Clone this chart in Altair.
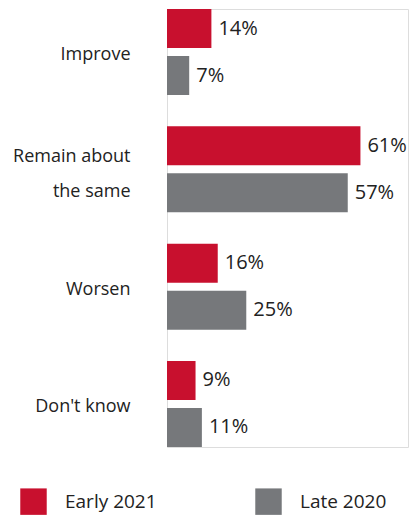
import altair as alt
import pandas as pd

categories = ["Improve", "Remain about the same", "Worsen", "Don't know"]
series = ["Early 2021", "Late 2020"]
early_2021 = [14, 61, 16, 9]
late_2020 = [7, 57, 25, 11]
colors = ["#C8102E", "#76787B"]

rows = []
for c, e, l in zip(categories, early_2021, late_2020):
    rows.append({"category": c, "period": series[0], "value": e})
    rows.append({"category": c, "period": series[1], "value": l})
df = pd.DataFrame(rows)

FONT = "Open Sans"
TEXT = "#222222"

y_enc = alt.Y("category:N", sort=categories,
              scale=alt.Scale(paddingInner=0.267, paddingOuter=0),
              axis=alt.Axis(title=None, domain=False, ticks=False,
                            labelFontSize=18, labelColor=TEXT, labelFont=FONT,
                            labelPadding=37, labelLineHeight=35, labelLimit=200,
                            labelOffset={"condition": {"test": "datum.value == 'Remain about the same'", "value": -12}, "value": 3},
                            labelExpr="datum.label == 'Remain about the same' ? ['Remain about', 'the same'] : datum.label"))
yoff = alt.YOffset("period:N", sort=series, scale=alt.Scale(paddingInner=0.17, paddingOuter=0))
x_enc = alt.X("value:Q", scale=alt.Scale(domain=[0, 76], nice=False, zero=True), axis=None)

base = alt.Chart(df).encode(y=y_enc, yOffset=yoff, x=x_enc)

bars = base.mark_bar().encode(
    color=alt.Color("period:N", sort=series,
                    scale=alt.Scale(domain=series, range=colors),
                    legend=alt.Legend(title=None, orient="none", direction="horizontal",
                                      legendX=-147, legendY=479, padding=0,
                                      symbolType="square", symbolSize=700,
                                      symbolStrokeWidth=0, labelFontSize=19,
                                      labelFont=FONT, labelColor=TEXT,
                                      labelOffset=18, columnPadding=98))
)

labels = base.transform_calculate(label="datum.value + '%'").mark_text(
    align="left", baseline="middle", dx=7, fontSize=20, font=FONT, color=TEXT
).encode(text="label:N")

chart = (bars + labels).properties(
    width=241, height=438,
    autosize=alt.AutoSizeParams(type="none"),
    padding={"left": 167, "top": 9, "right": 1, "bottom": 74},
).configure_view(stroke=None).configure(background="white")

chart.save("out.html", embed_options={"renderer": "svg", "actions": False})
